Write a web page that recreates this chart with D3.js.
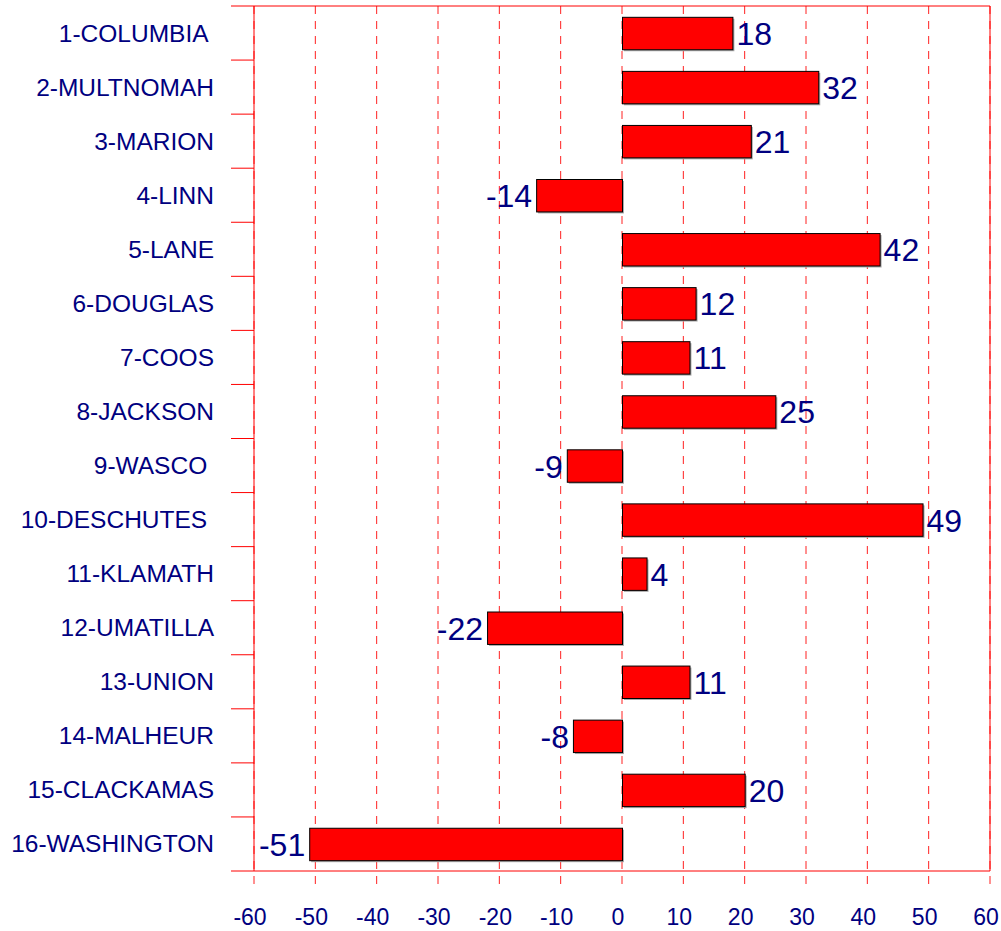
<!DOCTYPE html>
<html>
<head>
<meta charset="utf-8">
<script src="https://cdn.jsdelivr.net/npm/d3@7"></script>
<style>
  body { margin: 0; background: #fff; }
  svg { display: block; font-family: "Liberation Sans", Arial, sans-serif; }
  text { white-space: pre; }
</style>
</head>
<body>
<svg width="1001" height="931"></svg>
<script>
const counties = ['1-COLUMBIA ', '2-MULTNOMAH', '3-MARION', '4-LINN', '5-LANE', '6-DOUGLAS', '7-COOS',
  '8-JACKSON', '9-WASCO ', '10-DESCHUTES ', '11-KLAMATH', '12-UMATILLA', '13-UNION', '14-MALHEUR',
  '15-CLACKAMAS', '16-WASHINGTON'];
const values = [18, 32, 21, -14, 42, 12, 11, 25, -9, 49, 4, -22, 11, -8, 20, -51];
const xTicks = [-60, -50, -40, -30, -20, -10, 0, 10, 20, 30, 40, 50, 60];

const svg = d3.select('svg');
const navy = '#000080';

const x = d3.scaleLinear().domain([-60, 60]).range([254, 990]);
const y = d3.scaleBand().domain(counties).range([6, 871])
    .paddingInner(0.4).paddingOuter(0.2);

const plotTop = y.range()[0], plotBottom = y.range()[1];
const half = (y.step() - y.bandwidth()) / 2;

// dashed vertical grid
svg.append('g')
  .selectAll('line')
  .data(xTicks).enter()
  .append('line')
    .attr('x1', d => x(d)).attr('x2', d => x(d))
    .attr('y1', plotTop).attr('y2', 889)
    .attr('stroke', '#ff2020')
    .attr('stroke-width', 1)
    .attr('stroke-dasharray', '8,7');

// band separators / left ticks
const seps = counties.map(c => y(c) - half).concat([plotBottom]);
svg.append('g')
  .selectAll('line')
  .data(seps).enter()
  .append('line')
    .attr('x1', 231)
    .attr('x2', (d, i) => (i === 0 || i === seps.length - 1) ? x(60) : x(-60))
    .attr('y1', d => d).attr('y2', d => d)
    .attr('stroke', 'red');

// left axis and right border
[-60, 60].forEach(v => {
  svg.append('line')
    .attr('x1', x(v)).attr('x2', x(v))
    .attr('y1', plotTop).attr('y2', plotBottom)
    .attr('stroke', 'red');
});

const rows = counties.map((c, i) => ({name: c, value: values[i]}));

// bar shadows
svg.append('g')
  .selectAll('rect')
  .data(rows).enter()
  .append('rect')
    .attr('x', d => x(Math.min(0, d.value)) + 2)
    .attr('y', d => y(d.name) + 2)
    .attr('width', d => Math.abs(x(d.value) - x(0)))
    .attr('height', y.bandwidth())
    .attr('fill', '#aaa');

svg.append('g')
  .selectAll('rect')
  .data(rows).enter()
  .append('rect')
    .attr('x', d => x(Math.min(0, d.value)) + 0.5)
    .attr('y', d => y(d.name) + 0.5)
    .attr('width', d => Math.abs(x(d.value) - x(0)))
    .attr('height', y.bandwidth())
    .attr('fill', 'red')
    .attr('stroke', 'black')
    .attr('stroke-width', 1);

// value labels
svg.append('g')
  .selectAll('text')
  .data(rows).enter()
  .append('text')
    .attr('x', d => d.value >= 0 ? x(d.value) + 4 : x(d.value) - 4)
    .attr('y', d => y(d.name) + y.bandwidth() / 2 + 12)
    .attr('text-anchor', d => d.value >= 0 ? 'start' : 'end')
    .attr('font-size', 32)
    .attr('fill', navy)
    .text(d => d.value);

// category labels
svg.append('g')
  .selectAll('text')
  .data(counties).enter()
  .append('text')
    .attr('x', 214)
    .attr('y', d => y(d) + y.bandwidth() / 2 + 8.5)
    .attr('text-anchor', 'end')
    .attr('font-size', 24.5)
    .attr('fill', navy)
    .text(d => d);

// x tick labels
svg.append('g')
  .selectAll('text')
  .data(xTicks).enter()
  .append('text')
    .attr('x', d => x(d) - 4)
    .attr('y', 925)
    .attr('text-anchor', 'middle')
    .attr('font-size', 23)
    .attr('fill', navy)
    .text(d => d);
</script>
</body>
</html>
